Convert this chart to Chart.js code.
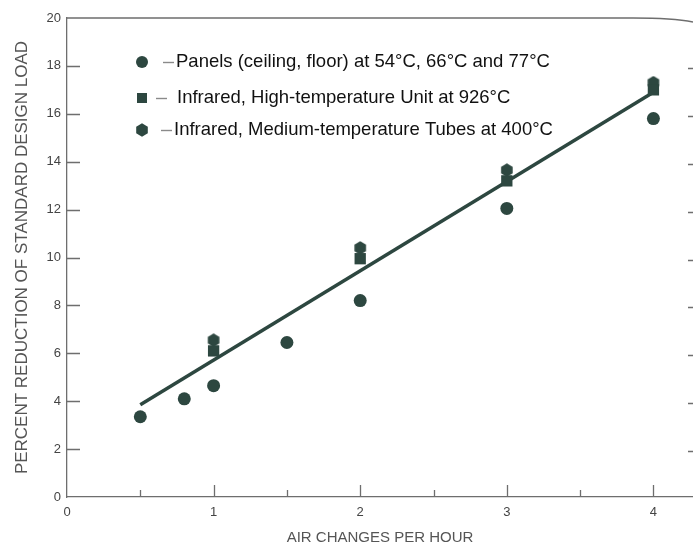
<!DOCTYPE html>
<html>
<head>
<meta charset="utf-8">
<script src="https://cdn.jsdelivr.net/npm/chart.js@4/dist/chart.umd.min.js"></script>
<style>
  html, body { margin: 0; padding: 0; background: #fff; }
  #wrap { width: 693px; height: 547px; }
</style>
</head>
<body>
<div id="wrap"><canvas id="loadChart" width="693" height="547"></canvas></div>
<script>
// Panels (ceiling, floor)
var panelsX = [0.5, 0.8, 1.0, 1.5, 2.0, 3.0, 4.0];
var panelsLoad = [3.35, 4.1, 4.65, 6.45, 8.2, 12.05, 15.8];
// Infrared, high-temperature unit
var highTempX = [1, 2, 3, 4];
var highTempLoad = [6.1, 9.95, 13.2, 17.0];
// Infrared, medium-temperature tubes
var tubesX = [1, 2, 3, 4];
var tubesLoad = [6.55, 10.4, 13.65, 17.3];
// Fitted line
var fitX = [0.5, 4];
var fitLoad = [3.85, 16.9];

var xTickValues = [0, 1, 2, 3, 4];
var xMinorTicks = [0.5, 1.5, 2.5, 3.5];
var yTickValues = [0, 2, 4, 6, 8, 10, 12, 14, 16, 18, 20];

var legendLabels = [
    'Panels (ceiling, floor) at 54°C, 66°C and 77°C',
    'Infrared, High-temperature Unit at 926°C',
    'Infrared, Medium-temperature Tubes at 400°C'
];

var markColor = '#2d4740';
var axisColor = '#6e6e6e';
var fontFamily = '"Liberation Sans", Arial, sans-serif';

function toPoints(xs, ys) {
    return xs.map(function(x, i) { return { x: x, y: ys[i] }; });
}

// hexagon marker, point up
function makeHexagon(size) {
    var c = document.createElement('canvas');
    c.width = size; c.height = size;
    var g = c.getContext('2d');
    var r = size / 2;
    g.fillStyle = markColor;
    g.beginPath();
    for (var i = 0; i < 6; i++) {
        var a = -Math.PI / 2 + i * Math.PI / 3;
        var px = r + (r - 0.3) * Math.cos(a);
        var py = r + (r - 0.3) * Math.sin(a);
        if (i === 0) g.moveTo(px, py); else g.lineTo(px, py);
    }
    g.closePath();
    g.fill();
    return c;
}
var hexMarker = makeHexagon(14);

// ticks drawn inside the frame, right-side dashes, top rule and the legend
var framePlugin = {
    id: 'frame',
    afterDatasetsDraw: function(chart) {
        var ctx = chart.ctx;
        var area = chart.chartArea;
        var xs = chart.scales.x;
        var ys = chart.scales.y;
        ctx.save();
        ctx.strokeStyle = axisColor;
        ctx.lineWidth = 1.3;

        // top rule, bending slightly at the right end
        ctx.beginPath();
        ctx.moveTo(area.left, area.top);
        ctx.lineTo(area.right - 60, area.top);
        ctx.quadraticCurveTo(area.right - 20, area.top, area.right, area.top + 4);
        ctx.stroke();

        ctx.beginPath();
        yTickValues.forEach(function(v) {
            if (v === 0 || v === 20) return;
            var py = Math.round(ys.getPixelForValue(v)) + 0.5;
            ctx.moveTo(area.left, py);
            ctx.lineTo(area.left + 13, py);
            ctx.moveTo(area.right - 5, py + 2);
            ctx.lineTo(area.right, py + 2);
        });
        xTickValues.forEach(function(v) {
            if (v === 0) return;
            var px = Math.round(xs.getPixelForValue(v)) + 0.5;
            ctx.moveTo(px, area.bottom);
            ctx.lineTo(px, area.bottom - 12);
        });
        xMinorTicks.forEach(function(v) {
            var px = Math.round(xs.getPixelForValue(v)) + 0.5;
            ctx.moveTo(px, area.bottom);
            ctx.lineTo(px, area.bottom - 7);
        });
        ctx.stroke();

        // legend
        var rows = [
            { y: 62, dash: 163, text: 176 },
            { y: 98, dash: 156, text: 177 },
            { y: 130, dash: 161, text: 174 }
        ];
        ctx.font = '18.5px ' + fontFamily;
        ctx.textBaseline = 'middle';
        rows.forEach(function(row, i) {
            ctx.fillStyle = markColor;
            if (i === 0) {
                ctx.beginPath();
                ctx.arc(142, row.y, 6, 0, Math.PI * 2);
                ctx.fill();
            } else if (i === 1) {
                ctx.fillRect(137, row.y - 5, 10, 10);
            } else {
                ctx.drawImage(hexMarker, 135, row.y - 7);
            }
            ctx.strokeStyle = '#8a8a8a';
            ctx.lineWidth = 1.4;
            ctx.beginPath();
            ctx.moveTo(row.dash, row.y + 0.5);
            ctx.lineTo(row.dash + 11, row.y + 0.5);
            ctx.stroke();
            ctx.fillStyle = '#111';
            ctx.fillText(legendLabels[i], row.text, row.y);
        });
        ctx.restore();
    }
};

var ctx = document.getElementById('loadChart');
new Chart(ctx, {
    type: 'scatter',
    data: {
        datasets: [{
            label: legendLabels[0],
            data: toPoints(panelsX, panelsLoad),
            pointStyle: 'circle',
            pointRadius: 6.5,
            backgroundColor: markColor,
            borderWidth: 0
        }, {
            label: legendLabels[1],
            data: toPoints(highTempX, highTempLoad),
            pointStyle: 'rect',
            pointRadius: 8,
            backgroundColor: markColor,
            borderWidth: 0
        }, {
            label: legendLabels[2],
            data: toPoints(tubesX, tubesLoad),
            pointStyle: hexMarker,
            backgroundColor: markColor,
            borderWidth: 0
        }, {
            type: 'line',
            label: 'fit',
            data: toPoints(fitX, fitLoad),
            borderColor: markColor,
            borderWidth: 3.5,
            pointRadius: 0,
            fill: false
        }]
    },
    options: {
        responsive: false,
        animation: false,
        layout: {
            autoPadding: false,
            padding: { top: 18, right: 0, left: 0, bottom: 0 }
        },
        plugins: {
            legend: { display: false },
            tooltip: { enabled: false }
        },
        scales: {
            x: {
                type: 'linear',
                min: 0,
                max: 4.27,
                afterBuildTicks: function(scale) {
                    scale.ticks = xTickValues.map(function(v) { return { value: v }; });
                },
                afterFit: function(scale) { scale.height = 50; },
                grid: { display: false, drawTicks: false },
                border: { display: true, color: axisColor, width: 1.3 },
                ticks: {
                    padding: 8,
                    color: '#444',
                    font: { family: fontFamily, size: 13 }
                },
                title: {
                    display: true,
                    text: 'AIR CHANGES PER HOUR',
                    color: '#555',
                    padding: { top: 3, bottom: 0 },
                    font: { family: fontFamily, size: 15 }
                }
            },
            y: {
                min: 0,
                max: 20,
                afterBuildTicks: function(scale) {
                    scale.ticks = yTickValues.map(function(v) { return { value: v }; });
                },
                afterFit: function(scale) { scale.width = 67; },
                grid: { display: false, drawTicks: false },
                border: { display: true, color: axisColor, width: 1.3 },
                ticks: {
                    padding: 6,
                    color: '#444',
                    font: { family: fontFamily, size: 13 }
                },
                title: {
                    display: true,
                    text: 'PERCENT REDUCTION OF STANDARD DESIGN LOAD',
                    color: '#555',
                    padding: { top: 12, bottom: 0 },
                    font: { family: fontFamily, size: 17 }
                }
            }
        }
    },
    plugins: [framePlugin]
});
</script>
</body>
</html>
